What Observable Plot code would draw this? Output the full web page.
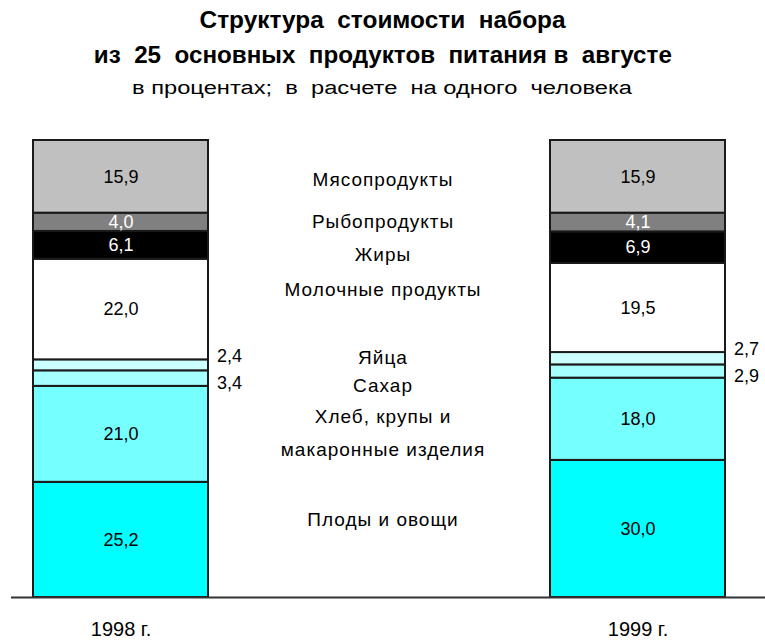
<!DOCTYPE html>
<html>
<head>
<meta charset="utf-8">
<script src="https://cdn.jsdelivr.net/npm/d3@7"></script>
<script src="https://cdn.jsdelivr.net/npm/@observablehq/plot@0.6"></script>
<style>
  html, body { margin: 0; padding: 0; background: #fff; }
  #wrap { width: 765px; height: 641px; position: relative; overflow: hidden; }
  .t { position: absolute; left: 0; width: 765px; text-align: center; color: #000; white-space: pre; }
  .t span { display: inline-block; transform-origin: 50% 50%; }
  .t1, .t2 { font: bold 23px "Liberation Sans", Arial, sans-serif; line-height: 28px; }
  .t1 { top: 6px; }
  .t2 { top: 41px; }
  .t3 { top: 76px; font: 18px "Liberation Sans", Arial, sans-serif; line-height: 24px; }
  #chart { position: absolute; left: 0; top: 105px; }
</style>
</head>
<body>
<div id="wrap">
  <div class="t t1"><span data-w="366">Структура  стоимости  набора</span></div>
  <div class="t t2"><span data-w="578">из  25  основных  продуктов  питания в  августе</span></div>
  <div class="t t3"><span data-w="500">в процентах;  в  расчете  на одного  человека</span></div>
  <div id="chart"></div>
</div>
<script>
// ---- data ----
const years = ["1998 г.", "1999 г."];
// categories from bottom of the stack to the top
const categories = [
  "Плоды и овощи",
  "Хлеб, крупы и\nмакаронные изделия",
  "Сахар",
  "Яйца",
  "Молочные продукты",
  "Жиры",
  "Рыбопродукты",
  "Мясопродукты"
];
const values1998 = [25.2, 21.0, 3.4, 2.4, 22.0, 6.1, 4.0, 15.9];
const values1999 = [30.0, 18.0, 2.9, 2.7, 19.5, 6.9, 4.1, 15.9];

// ---- styles ----
const colors = ["#00ffff", "#75ffff", "#a6ffff", "#ccffff", "#ffffff", "#000000", "#808080", "#c0c0c0"];
const whiteText = new Set(["Жиры", "Рыбопродукты"]);
const outside = new Set(["Сахар", "Яйца"]);
const labelNudge = [-19, 2, 6, -9, -23, 4, -5, -1];

// fit the title lines to the widths of the original's condensed font
document.querySelectorAll(".t span").forEach(s => {
  const w = s.getBoundingClientRect().width;
  const target = +s.dataset.w;
  s.style.transform = `scaleX(${target / w})`;
});

const rows = [];
years.forEach((yr, j) => {
  const vals = j === 0 ? values1998 : values1999;
  categories.forEach((c, i) => rows.push({year: yr, category: c, value: vals[i]}));
});
const fmt = v => v.toFixed(1).replace(".", ",");

// middle labels: midpoints of the averaged stack
let acc = 0;
const midRows = categories.map((c, i) => {
  const avg = (values1998[i] + values1999[i]) / 2;
  const mid = acc + avg / 2;
  acc += avg;
  return {category: c, mid, i};
});

const stackOpts = {x: "year", y: "value", z: "category", order: categories};
const font = '"Liberation Sans", Arial, sans-serif';
const vfs = 18;

const marks = [
  Plot.barY(rows, Plot.stackY({...stackOpts, fill: "category", stroke: "#1a1a1a", strokeWidth: 2})),
  Plot.ruleY([0], {stroke: "#333", strokeWidth: 2, insetLeft: -21, insetRight: -40}),
  Plot.text(rows, Plot.stackY({...stackOpts, text: d => (!outside.has(d.category) && !whiteText.has(d.category)) ? fmt(d.value) : "", fill: "#000", fontSize: vfs})),
  Plot.text(rows, Plot.stackY({...stackOpts, text: d => whiteText.has(d.category) ? fmt(d.value) : "", fill: "#fff", fontSize: vfs})),
  Plot.text(rows, Plot.stackY({...stackOpts, text: d => d.category === "Яйца" ? fmt(d.value) : "", fill: "#000", fontSize: vfs, textAnchor: "start", dx: 96, dy: -9})),
  Plot.text(rows, Plot.stackY({...stackOpts, text: d => d.category === "Сахар" ? fmt(d.value) : "", fill: "#000", fontSize: vfs, textAnchor: "start", dx: 96, dy: 5})),
  ...midRows.map(r => Plot.text([r], {y: "mid", text: "category", fill: "#000", fontSize: 19, lineHeight: 1.75, dy: labelNudge[r.i], dx: 4}))
];

const chart = Plot.plot({
  width: 765,
  height: 536,
  marginTop: 35,
  marginBottom: 44,
  marginLeft: 32,
  marginRight: 40,
  style: {fontFamily: font, background: "#fff", color: "#000"},
  x: {domain: years, paddingInner: 0.662, paddingOuter: 0, label: null},
  y: {domain: [0, 100], axis: null},
  color: {domain: categories, range: colors},
  marks: [
    ...marks,
    Plot.axisX({tickSize: 0, tickPadding: 24, fontSize: 20, label: null})
  ]
});
// letter spacing on the middle category labels
chart.querySelectorAll("g[aria-label='text']").forEach(g => {
  if (g.getAttribute("font-size") === "19") g.setAttribute("letter-spacing", "1");
});
document.getElementById("chart").appendChild(chart);
</script>
</body>
</html>
